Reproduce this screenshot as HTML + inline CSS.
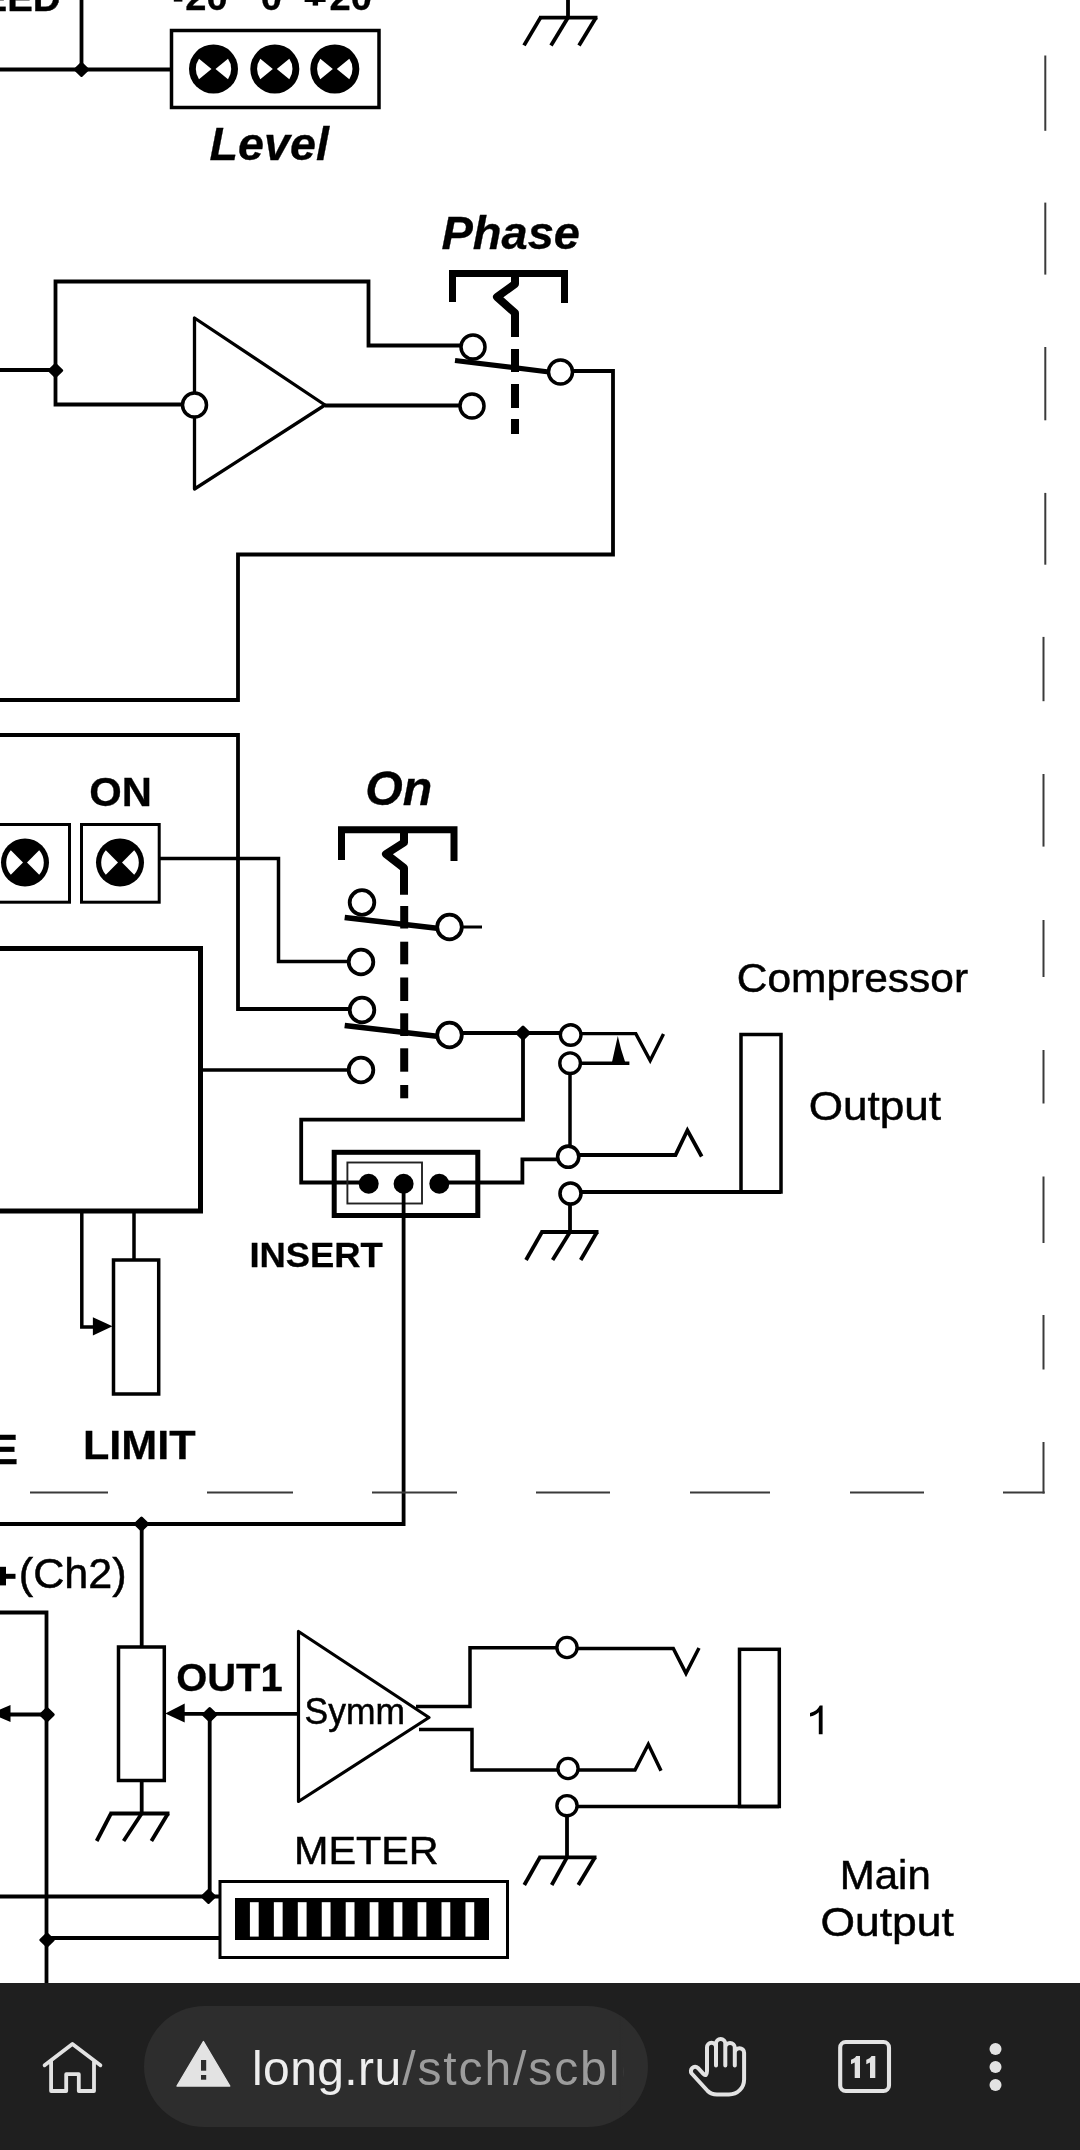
<!DOCTYPE html>
<html><head><meta charset="utf-8"><title>long.ru</title>
<style>
html,body{margin:0;padding:0;background:#fff;}
body{width:1080px;height:2150px;overflow:hidden;position:relative;font-family:"Liberation Sans",sans-serif;}
#dia{position:absolute;left:0;top:0;width:1080px;height:1984px;overflow:hidden;background:#fff;}
#dia svg{display:block;font-family:"Liberation Sans",sans-serif;filter:blur(0.5px);}
#bar{position:absolute;left:0;top:1983px;width:1080px;height:167px;background:#1f1f1f;}
#pill{position:absolute;left:144px;top:23px;width:504px;height:121px;border-radius:61px;background:#2d2d2d;overflow:hidden;}
#url{position:absolute;left:107.5px;top:1.5px;height:121px;line-height:121px;font-size:48px;color:#eeeeee;white-space:nowrap;width:372.5px;overflow:hidden;letter-spacing:0.4px;will-change:transform;}
#url span{color:#9c9c9c;letter-spacing:1.9px;margin-left:0.6px;}
#fade{position:absolute;left:475px;top:0;width:6px;height:121px;background:linear-gradient(to right,rgba(45,45,45,0),rgba(45,45,45,1) 85%);}
.ic{position:absolute;}
</style></head><body>
<div id="dia"><svg width="1080" height="1984" viewBox="0 0 1080 1984">
<text stroke="#000" stroke-width="0.3" transform="translate(60.6,11.3) scale(1.04,1)" font-size="37" font-weight="bold" font-style="normal" text-anchor="end" fill="#000">EED</text>
<line x1="81.5" y1="0" x2="81.5" y2="69.5" stroke="#000" stroke-width="3.8" stroke-linecap="butt"/>
<line x1="0" y1="69.5" x2="171" y2="69.5" stroke="#000" stroke-width="3.8" stroke-linecap="butt"/>
<polygon points="75.3,69.5 81.5,63.5 87.7,69.5 81.5,75.5" fill="#000" stroke="#000" stroke-width="3" stroke-linejoin="round"/>
<rect x="171.5" y="30.5" width="207.5" height="77.0" fill="none" stroke="#000" stroke-width="3.5"/>
<circle cx="213.5" cy="69" r="24.5" fill="#000"/>
<path d="M211.5,69 L199.00100881608483,58.847697076586485 A17.7,17.7 0 0 0 199.00100881608483,79.15230292341352 Z" fill="#fff"/>
<path d="M215.5,69 L227.99899118391517,58.847697076586485 A17.7,17.7 0 0 1 227.99899118391517,79.15230292341352 Z" fill="#fff"/>
<circle cx="274.8" cy="69" r="24.5" fill="#000"/>
<path d="M272.8,69 L260.30100881608485,58.847697076586485 A17.7,17.7 0 0 0 260.30100881608485,79.15230292341352 Z" fill="#fff"/>
<path d="M276.8,69 L289.2989911839152,58.847697076586485 A17.7,17.7 0 0 1 289.2989911839152,79.15230292341352 Z" fill="#fff"/>
<circle cx="334.8" cy="69" r="24.5" fill="#000"/>
<path d="M332.8,69 L320.30100881608485,58.847697076586485 A17.7,17.7 0 0 0 320.30100881608485,79.15230292341352 Z" fill="#fff"/>
<path d="M336.8,69 L349.2989911839152,58.847697076586485 A17.7,17.7 0 0 1 349.2989911839152,79.15230292341352 Z" fill="#fff"/>
<text stroke="#000" stroke-width="0.3" transform="translate(185.3,9.7) scale(1.03,1)" font-size="37" font-weight="bold" font-style="normal" text-anchor="start" fill="#000">20</text>
<text stroke="#000" stroke-width="0.3" transform="translate(260.8,9.7) scale(1.03,1)" font-size="37" font-weight="bold" font-style="normal" text-anchor="start" fill="#000">0</text>
<text stroke="#000" stroke-width="0.3" transform="translate(329.6,9.7) scale(1.03,1)" font-size="37" font-weight="bold" font-style="normal" text-anchor="start" fill="#000">20</text>
<rect x="173.8" y="-3" width="8.6" height="4.6" fill="#000"/>
<rect x="304.6" y="-3" width="21" height="5" fill="#000"/><rect x="312.7" y="-3" width="5.4" height="8.6" fill="#000"/>
<text stroke="#000" stroke-width="0.3" transform="translate(209.5,159.5) scale(1.005,1)" font-size="46.5" font-weight="bold" font-style="italic" text-anchor="start" fill="#000">Level</text>
<line x1="568" y1="0" x2="568" y2="17.6" stroke="#000" stroke-width="3.8" stroke-linecap="butt"/>
<line x1="539.0" y1="17.6" x2="597.5" y2="17.6" stroke="#000" stroke-width="3.8" stroke-linecap="butt"/>
<line x1="540.5" y1="17.6" x2="524" y2="45.4" stroke="#000" stroke-width="3.8" stroke-linecap="butt"/>
<line x1="568" y1="17.6" x2="551" y2="45.4" stroke="#000" stroke-width="3.8" stroke-linecap="butt"/>
<line x1="596" y1="17.6" x2="579" y2="45.4" stroke="#000" stroke-width="3.8" stroke-linecap="butt"/>
<text stroke="#000" stroke-width="0.3" transform="translate(441.4,249) scale(1.012,1)" font-size="46.5" font-weight="bold" font-style="italic" text-anchor="start" fill="#000">Phase</text>
<polyline points="452.5,302 452.5,273.5 564.5,273.5 564.5,303" fill="none" stroke="#000" stroke-width="7" stroke-linejoin="miter" stroke-linecap="butt" />
<polyline points="515,273.5 515,284 497,297 515,313 515,337" fill="none" stroke="#000" stroke-width="8" stroke-linejoin="round" stroke-linecap="butt" />
<line x1="515" y1="349" x2="515" y2="372" stroke="#000" stroke-width="8" stroke-linecap="butt"/>
<line x1="515" y1="384" x2="515" y2="408" stroke="#000" stroke-width="8" stroke-linecap="butt"/>
<line x1="515" y1="419" x2="515" y2="434" stroke="#000" stroke-width="8" stroke-linecap="butt"/>
<polyline points="183,404.5 55.5,404.5 55.5,281.5 368.5,281.5 368.5,345.5 461,345.5" fill="none" stroke="#000" stroke-width="3.8" stroke-linejoin="miter" stroke-linecap="butt" />
<line x1="0" y1="370" x2="55.5" y2="370" stroke="#000" stroke-width="3.8" stroke-linecap="butt"/>
<polygon points="49.3,370.5 55.5,364.5 61.7,370.5 55.5,376.5" fill="#000" stroke="#000" stroke-width="3" stroke-linejoin="round"/>
<polygon points="194.5,318 194.5,489 325,405" fill="#fff" stroke="#000" stroke-width="3.3" stroke-linejoin="round"/>
<circle cx="194.5" cy="405" r="12" fill="#fff" stroke="#000" stroke-width="3.5"/>
<line x1="325" y1="405.5" x2="460" y2="405.5" stroke="#000" stroke-width="3.8" stroke-linecap="butt"/>
<polyline points="572,371 613,371 613,554.5 238,554.5 238,700 0,700" fill="none" stroke="#000" stroke-width="3.8" stroke-linejoin="miter" stroke-linecap="butt" />
<line x1="455" y1="360.5" x2="549" y2="372" stroke="#000" stroke-width="5.2" stroke-linecap="butt"/>
<circle cx="473" cy="347" r="12" fill="#fff" stroke="#000" stroke-width="3.5"/>
<circle cx="560.5" cy="372" r="12" fill="#fff" stroke="#000" stroke-width="3.5"/>
<circle cx="472" cy="406" r="12" fill="#fff" stroke="#000" stroke-width="3.5"/>
<polyline points="0,735 238,735 238,1009 350,1009" fill="none" stroke="#000" stroke-width="3.8" stroke-linejoin="miter" stroke-linecap="butt" />
<text stroke="#000" stroke-width="0.3" transform="translate(89.3,806) scale(1.045,1)" font-size="40" font-weight="bold" font-style="normal" text-anchor="start" fill="#000">ON</text>
<rect x="81.5" y="824.5" width="77.69999999999999" height="77.70000000000005" fill="none" stroke="#000" stroke-width="3"/>
<rect x="-8" y="824.5" width="77.5" height="77.70000000000005" fill="none" stroke="#000" stroke-width="3"/>
<circle cx="120" cy="862.5" r="24" fill="#000"/>
<path d="M118.0,862.5 L105.8114598918119,850.1660902549785 A18.8,18.8 0 0 0 105.8114598918119,874.8339097450215 Z" fill="#fff"/>
<path d="M122.0,862.5 L134.1885401081881,850.1660902549785 A18.8,18.8 0 0 1 134.1885401081881,874.8339097450215 Z" fill="#fff"/>
<circle cx="25" cy="862.5" r="24" fill="#000"/>
<path d="M23.0,862.5 L10.811459891811886,850.1660902549785 A18.8,18.8 0 0 0 10.811459891811886,874.8339097450215 Z" fill="#fff"/>
<path d="M27.0,862.5 L39.188540108188114,850.1660902549785 A18.8,18.8 0 0 1 39.188540108188114,874.8339097450215 Z" fill="#fff"/>
<polyline points="160,858.5 278.5,858.5 278.5,961.5 349,961.5" fill="none" stroke="#000" stroke-width="3.5" stroke-linejoin="miter" stroke-linecap="butt" />
<rect x="-8" y="948.5" width="208.5" height="262.5" fill="none" stroke="#000" stroke-width="5"/>
<line x1="201" y1="1070" x2="349" y2="1070" stroke="#000" stroke-width="3.5" stroke-linecap="butt"/>
<text stroke="#000" stroke-width="0.3" transform="translate(365.3,805) scale(1.015,1)" font-size="47.5" font-weight="bold" font-style="italic" text-anchor="start" fill="#000">On</text>
<polyline points="341.5,860 341.5,829.8 454,829.8 454,861" fill="none" stroke="#000" stroke-width="7" stroke-linejoin="miter" stroke-linecap="butt" />
<polyline points="404,829.8 404,842.5 386,854 404,868 404,894.7" fill="none" stroke="#000" stroke-width="8" stroke-linejoin="round" stroke-linecap="butt" />
<line x1="404.2" y1="906" x2="404.2" y2="928.5" stroke="#000" stroke-width="8" stroke-linecap="butt"/>
<line x1="404.2" y1="941.7" x2="404.2" y2="964.3" stroke="#000" stroke-width="8" stroke-linecap="butt"/>
<line x1="404.2" y1="977.5" x2="404.2" y2="1001" stroke="#000" stroke-width="8" stroke-linecap="butt"/>
<line x1="404.2" y1="1013.3" x2="404.2" y2="1036" stroke="#000" stroke-width="8" stroke-linecap="butt"/>
<line x1="404.2" y1="1048.3" x2="404.2" y2="1071.7" stroke="#000" stroke-width="8" stroke-linecap="butt"/>
<line x1="404.2" y1="1085" x2="404.2" y2="1098.3" stroke="#000" stroke-width="8" stroke-linecap="butt"/>
<line x1="344.7" y1="917.5" x2="437" y2="928.3" stroke="#000" stroke-width="5.4" stroke-linecap="butt"/>
<line x1="344.7" y1="1025.5" x2="437" y2="1036.3" stroke="#000" stroke-width="5.4" stroke-linecap="butt"/>
<line x1="461" y1="927" x2="482" y2="927" stroke="#000" stroke-width="3" stroke-linecap="butt"/>
<line x1="461" y1="1033" x2="560" y2="1033" stroke="#000" stroke-width="3.8" stroke-linecap="butt"/>
<polyline points="523,1033 523,1119.7 301.2,1119.7 301.2,1182.5 368,1182.5" fill="none" stroke="#000" stroke-width="3.8" stroke-linejoin="miter" stroke-linecap="butt" />
<polygon points="516.8,1033 523,1027.0 529.2,1033 523,1039.0" fill="#000" stroke="#000" stroke-width="3" stroke-linejoin="round"/>
<circle cx="362" cy="902.5" r="12.3" fill="#fff" stroke="#000" stroke-width="3.8"/>
<circle cx="449.5" cy="927" r="12.3" fill="#fff" stroke="#000" stroke-width="3.8"/>
<circle cx="361" cy="962" r="12.3" fill="#fff" stroke="#000" stroke-width="3.8"/>
<circle cx="362" cy="1010" r="12.3" fill="#fff" stroke="#000" stroke-width="3.8"/>
<circle cx="449.5" cy="1035" r="12.3" fill="#fff" stroke="#000" stroke-width="3.8"/>
<circle cx="361" cy="1070" r="12.3" fill="#fff" stroke="#000" stroke-width="3.8"/>
<rect x="334.2" y="1152.3" width="143.60000000000002" height="63.200000000000045" fill="none" stroke="#000" stroke-width="5"/>
<rect x="347.4" y="1162.5" width="74.60000000000002" height="41.0" fill="none" stroke="#222" stroke-width="1.9"/>
<polyline points="439,1182.5 522.4,1182.5 522.4,1159.3 558,1159.3" fill="none" stroke="#000" stroke-width="3.8" stroke-linejoin="miter" stroke-linecap="butt" />
<polyline points="403.6,1184 403.6,1524 0,1524" fill="none" stroke="#000" stroke-width="3.8" stroke-linejoin="miter" stroke-linecap="butt" />
<circle cx="368.7" cy="1183.8" r="10" fill="#000"/>
<circle cx="403.6" cy="1183.8" r="10" fill="#000"/>
<circle cx="439.3" cy="1183.8" r="10" fill="#000"/>
<polygon points="135.3,1524 141.5,1518.0 147.7,1524 141.5,1530.0" fill="#000" stroke="#000" stroke-width="3" stroke-linejoin="round"/>
<polyline points="581,1033.6 635.8,1033.6 650.2,1060.5 663.5,1034" fill="none" stroke="#000" stroke-width="3.4" stroke-linejoin="miter" stroke-linecap="butt" />
<line x1="580" y1="1063.2" x2="629.4" y2="1063.2" stroke="#000" stroke-width="3.4" stroke-linecap="butt"/>
<polygon points="617.8,1036 614.9,1049 611.4,1064.7 626,1064.7 621,1049" fill="#000" stroke="none" stroke-width="0" stroke-linejoin="round"/>
<line x1="570" y1="1074" x2="570" y2="1146" stroke="#000" stroke-width="3.5" stroke-linecap="butt"/>
<polyline points="579,1155 675.5,1155 687.4,1130.3 701.7,1156.5" fill="none" stroke="#000" stroke-width="3.8" stroke-linejoin="miter" stroke-linecap="butt" />
<line x1="581" y1="1192" x2="781" y2="1192" stroke="#000" stroke-width="3.8" stroke-linecap="butt"/>
<rect x="741" y="1034.5" width="40" height="157.5" fill="none" stroke="#000" stroke-width="3.5"/>
<line x1="570" y1="1205" x2="570" y2="1232" stroke="#000" stroke-width="3.8" stroke-linecap="butt"/>
<line x1="540.5" y1="1232" x2="598.5" y2="1232" stroke="#000" stroke-width="3.8" stroke-linecap="butt"/>
<line x1="542" y1="1232" x2="526" y2="1260" stroke="#000" stroke-width="3.8" stroke-linecap="butt"/>
<line x1="570" y1="1232" x2="552.6" y2="1260" stroke="#000" stroke-width="3.8" stroke-linecap="butt"/>
<line x1="597" y1="1232" x2="580.7" y2="1260" stroke="#000" stroke-width="3.8" stroke-linecap="butt"/>
<circle cx="570.7" cy="1035" r="10.3" fill="#fff" stroke="#000" stroke-width="3.4"/>
<circle cx="570.1" cy="1063.2" r="10.3" fill="#fff" stroke="#000" stroke-width="3.4"/>
<circle cx="568.2" cy="1156.7" r="10.6" fill="#fff" stroke="#000" stroke-width="3.6"/>
<circle cx="570.5" cy="1193.5" r="10.5" fill="#fff" stroke="#000" stroke-width="3.6"/>
<text stroke="#000" stroke-width="0.5" transform="translate(736.8,992) scale(1.036,1)" font-size="41" font-weight="normal" font-style="normal" text-anchor="start" fill="#000">Compressor</text>
<text stroke="#000" stroke-width="0.5" transform="translate(808.7,1120) scale(1.063,1)" font-size="41.5" font-weight="normal" font-style="normal" text-anchor="start" fill="#000">Output</text>
<text stroke="#000" stroke-width="0.3" transform="translate(249.4,1266.5) scale(1.04,1)" font-size="35" font-weight="bold" font-style="normal" text-anchor="start" fill="#000">INSERT</text>
<polyline points="81.8,1212 81.8,1327 94,1327" fill="none" stroke="#000" stroke-width="3.5" stroke-linejoin="miter" stroke-linecap="butt" />
<polygon points="92.9,1317.3 92.9,1335.6 112.5,1326.3" fill="#000" stroke="none" stroke-width="0" stroke-linejoin="round"/>
<line x1="134" y1="1212" x2="134" y2="1260" stroke="#000" stroke-width="3.5" stroke-linecap="butt"/>
<rect x="113.5" y="1260" width="45.19999999999999" height="134" fill="none" stroke="#000" stroke-width="3.5"/>
<text stroke="#000" stroke-width="0.3" transform="translate(83,1459) scale(1.052,1)" font-size="41" font-weight="bold" font-style="normal" text-anchor="start" fill="#000">LIMIT</text>
<text stroke="#000" stroke-width="0.3" transform="translate(18,1464.4) scale(1,1)" font-size="42" font-weight="bold" font-style="normal" text-anchor="end" fill="#000">E</text>
<line x1="1045.3" y1="55.5" x2="1045.3" y2="130.8" stroke="#3a3a3a" stroke-width="2" stroke-linecap="butt"/>
<line x1="1045.3" y1="202.6" x2="1045.3" y2="274.6" stroke="#3a3a3a" stroke-width="2" stroke-linecap="butt"/>
<line x1="1045.3" y1="347" x2="1045.3" y2="420.3" stroke="#3a3a3a" stroke-width="2" stroke-linecap="butt"/>
<line x1="1045.3" y1="492.9" x2="1045.3" y2="564.7" stroke="#3a3a3a" stroke-width="2" stroke-linecap="butt"/>
<line x1="1043.5" y1="636.9" x2="1043.5" y2="701.2" stroke="#3a3a3a" stroke-width="2" stroke-linecap="butt"/>
<line x1="1043.5" y1="774" x2="1043.5" y2="846.6" stroke="#3a3a3a" stroke-width="2" stroke-linecap="butt"/>
<line x1="1043.5" y1="920" x2="1043.5" y2="977" stroke="#3a3a3a" stroke-width="2" stroke-linecap="butt"/>
<line x1="1043.5" y1="1050" x2="1043.5" y2="1103.5" stroke="#3a3a3a" stroke-width="2" stroke-linecap="butt"/>
<line x1="1043.5" y1="1176.5" x2="1043.5" y2="1243" stroke="#3a3a3a" stroke-width="2" stroke-linecap="butt"/>
<line x1="1043.5" y1="1315" x2="1043.5" y2="1369.5" stroke="#3a3a3a" stroke-width="2" stroke-linecap="butt"/>
<line x1="1043.5" y1="1442" x2="1043.5" y2="1493.5" stroke="#3a3a3a" stroke-width="2" stroke-linecap="butt"/>
<line x1="30" y1="1492.5" x2="108" y2="1492.5" stroke="#3a3a3a" stroke-width="2" stroke-linecap="butt"/>
<line x1="207" y1="1492.5" x2="293" y2="1492.5" stroke="#3a3a3a" stroke-width="2" stroke-linecap="butt"/>
<line x1="372" y1="1492.5" x2="457" y2="1492.5" stroke="#3a3a3a" stroke-width="2" stroke-linecap="butt"/>
<line x1="536" y1="1492.5" x2="610" y2="1492.5" stroke="#3a3a3a" stroke-width="2" stroke-linecap="butt"/>
<line x1="690" y1="1492.5" x2="770" y2="1492.5" stroke="#3a3a3a" stroke-width="2" stroke-linecap="butt"/>
<line x1="850" y1="1492.5" x2="924" y2="1492.5" stroke="#3a3a3a" stroke-width="2" stroke-linecap="butt"/>
<line x1="1003" y1="1492.5" x2="1044.7" y2="1492.5" stroke="#3a3a3a" stroke-width="2" stroke-linecap="butt"/>
<text stroke="#000" stroke-width="0.5" transform="translate(18.8,1587.5) scale(1.032,1)" font-size="41.8" font-weight="normal" font-style="normal" text-anchor="start" fill="#000">(Ch2)</text>
<rect x="-9" y="1573.8" width="24.5" height="5" fill="#000"/><rect x="-2" y="1566.8" width="8" height="18.6" fill="#000"/>
<polyline points="0,1612.5 46.5,1612.5 46.5,1990" fill="none" stroke="#000" stroke-width="3.8" stroke-linejoin="miter" stroke-linecap="butt" />
<line x1="8" y1="1714.5" x2="46" y2="1714.5" stroke="#000" stroke-width="3.8" stroke-linecap="butt"/>
<polygon points="-9,1713.5 10.5,1705 10.5,1722" fill="#000" stroke="none" stroke-width="0" stroke-linejoin="round"/>
<polygon points="40.8,1714.7 47,1708.7 53.2,1714.7 47,1720.7" fill="#000" stroke="#000" stroke-width="3" stroke-linejoin="round"/>
<polygon points="40.8,1940 47,1934.0 53.2,1940 47,1946.0" fill="#000" stroke="#000" stroke-width="3" stroke-linejoin="round"/>
<line x1="47" y1="1938" x2="220" y2="1938" stroke="#000" stroke-width="3.8" stroke-linecap="butt"/>
<line x1="0" y1="1896.5" x2="220" y2="1896.5" stroke="#000" stroke-width="3.8" stroke-linecap="butt"/>
<polygon points="202.3,1896.5 208.5,1890.5 214.7,1896.5 208.5,1902.5" fill="#000" stroke="#000" stroke-width="3" stroke-linejoin="round"/>
<line x1="209.7" y1="1715" x2="209.7" y2="1896" stroke="#000" stroke-width="3.8" stroke-linecap="butt"/>
<line x1="141.7" y1="1524" x2="141.7" y2="1646" stroke="#000" stroke-width="3.8" stroke-linecap="butt"/>
<rect x="118.5" y="1647" width="45.80000000000001" height="133.5" fill="none" stroke="#000" stroke-width="3.5"/>
<line x1="141.7" y1="1782" x2="141.7" y2="1813.5" stroke="#000" stroke-width="3.8" stroke-linecap="butt"/>
<line x1="109.5" y1="1813.5" x2="169.5" y2="1813.5" stroke="#000" stroke-width="3.8" stroke-linecap="butt"/>
<line x1="111" y1="1813.5" x2="96.7" y2="1841" stroke="#000" stroke-width="3.8" stroke-linecap="butt"/>
<line x1="141.7" y1="1813.5" x2="123.6" y2="1841" stroke="#000" stroke-width="3.8" stroke-linecap="butt"/>
<line x1="168" y1="1813.5" x2="151.4" y2="1841" stroke="#000" stroke-width="3.8" stroke-linecap="butt"/>
<polygon points="165.3,1713.4 184.7,1703.6 184.7,1722.4" fill="#000" stroke="none" stroke-width="0" stroke-linejoin="round"/>
<line x1="184" y1="1713.8" x2="298" y2="1713.8" stroke="#000" stroke-width="3.8" stroke-linecap="butt"/>
<polygon points="203.5,1714.7 209.7,1708.7 215.89999999999998,1714.7 209.7,1720.7" fill="#000" stroke="#000" stroke-width="3" stroke-linejoin="round"/>
<text stroke="#000" stroke-width="0.3" transform="translate(176.2,1690.5) scale(1.032,1)" font-size="38.7" font-weight="bold" font-style="normal" text-anchor="start" fill="#000">OUT1</text>
<polygon points="298.5,1631.5 298.5,1801.5 429,1717.5" fill="#fff" stroke="#000" stroke-width="3.2" stroke-linejoin="round"/>
<text stroke="#000" stroke-width="0.5" transform="translate(304.6,1723.5) scale(0.945,1)" font-size="37.5" font-weight="normal" font-style="normal" text-anchor="start" fill="#000">Symm</text>
<polyline points="416,1706.5 470,1706.5 470,1647.7 556,1647.7" fill="none" stroke="#000" stroke-width="3.5" stroke-linejoin="miter" stroke-linecap="butt" />
<polyline points="577,1648.5 673.3,1648.5 686,1673.3 699,1648" fill="none" stroke="#000" stroke-width="3.5" stroke-linejoin="miter" stroke-linecap="butt" />
<polyline points="419,1729.5 472,1729.5 472,1770 557,1770" fill="none" stroke="#000" stroke-width="3.5" stroke-linejoin="miter" stroke-linecap="butt" />
<polyline points="578,1770 635,1770 648.3,1744.3 661,1770.7" fill="none" stroke="#000" stroke-width="3.5" stroke-linejoin="miter" stroke-linecap="butt" />
<line x1="577" y1="1806.5" x2="779" y2="1806.5" stroke="#000" stroke-width="3.5" stroke-linecap="butt"/>
<rect x="739.5" y="1649.3" width="39.799999999999955" height="157.20000000000005" fill="none" stroke="#000" stroke-width="3.5"/>
<line x1="567" y1="1816" x2="567" y2="1857.3" stroke="#000" stroke-width="3.8" stroke-linecap="butt"/>
<line x1="538.5" y1="1857.3" x2="596.5" y2="1857.3" stroke="#000" stroke-width="3.8" stroke-linecap="butt"/>
<line x1="540" y1="1857.3" x2="524.3" y2="1885" stroke="#000" stroke-width="3.8" stroke-linecap="butt"/>
<line x1="567" y1="1857.3" x2="551.7" y2="1885" stroke="#000" stroke-width="3.8" stroke-linecap="butt"/>
<line x1="595" y1="1857.3" x2="578.3" y2="1885" stroke="#000" stroke-width="3.8" stroke-linecap="butt"/>
<circle cx="567" cy="1647.5" r="10.1" fill="#fff" stroke="#000" stroke-width="3.4"/>
<circle cx="568" cy="1768.5" r="10.1" fill="#fff" stroke="#000" stroke-width="3.4"/>
<circle cx="567" cy="1805.7" r="10.1" fill="#fff" stroke="#000" stroke-width="3.4"/>
<path d="M822.6,1734.3 V1705.4 H819.8 C818,1709 815,1711.6 810,1713 V1716.6 C813.6,1715.7 816.4,1714.3 818.8,1712.2 V1734.3 Z" fill="#000"/>
<text stroke="#000" stroke-width="0.5" transform="translate(839.8,1889) scale(1.036,1)" font-size="40.5" font-weight="normal" font-style="normal" text-anchor="start" fill="#000">Main</text>
<text stroke="#000" stroke-width="0.5" transform="translate(820.4,1936) scale(1.097,1)" font-size="40.5" font-weight="normal" font-style="normal" text-anchor="start" fill="#000">Output</text>
<text stroke="#000" stroke-width="0.5" transform="translate(294,1864) scale(1.074,1)" font-size="38.5" font-weight="normal" font-style="normal" text-anchor="start" fill="#000">METER</text>
<rect x="220" y="1881.5" width="287.5" height="76.0" fill="none" stroke="#000" stroke-width="3"/>
<rect x="235" y="1898" width="254" height="42" fill="#000"/>
<rect x="249.9" y="1902.2" width="8.8" height="34.4" fill="#fff"/>
<rect x="273.85" y="1902.2" width="8.8" height="34.4" fill="#fff"/>
<rect x="297.8" y="1902.2" width="8.8" height="34.4" fill="#fff"/>
<rect x="321.75" y="1902.2" width="8.8" height="34.4" fill="#fff"/>
<rect x="345.7" y="1902.2" width="8.8" height="34.4" fill="#fff"/>
<rect x="369.65" y="1902.2" width="8.8" height="34.4" fill="#fff"/>
<rect x="393.6" y="1902.2" width="8.8" height="34.4" fill="#fff"/>
<rect x="417.55" y="1902.2" width="8.8" height="34.4" fill="#fff"/>
<rect x="441.5" y="1902.2" width="8.8" height="34.4" fill="#fff"/>
<rect x="465.45" y="1902.2" width="8.8" height="34.4" fill="#fff"/>
</svg></div>
<div id="bar">
<svg class="ic" style="left:0;top:0" width="1080" height="167" viewBox="0 1983 1080 167">
<!-- home -->
<path d="M44.6,2065.3 L72.4,2044 L100.4,2065.3 M51.1,2061 V2091 H66.2 V2074.2 H78.8 V2091 H94 V2061" fill="none" stroke="#e3e3e3" stroke-width="3.8" stroke-linejoin="round" stroke-linecap="round"/>
</svg>
<div id="pill">
<svg class="ic" style="left:0;top:0" width="120" height="121" viewBox="144 2006 120 121">
<path d="M203.4,2041.6 L229.8,2086 H177 Z" fill="#e3e3e3" stroke="#e3e3e3" stroke-width="1.4" stroke-linejoin="round"/>
<rect x="201" y="2060" width="5.2" height="10.7" fill="#2d2d2d"/><rect x="201" y="2075" width="5.2" height="4.7" fill="#2d2d2d"/>
</svg>
<div id="url">long.ru<span>/stch/scblock</span></div>
<div id="fade"></div>
</div>
<svg class="ic" style="left:0;top:0" width="1080" height="167" viewBox="0 1983 1080 167">
<!-- hand -->
<g fill="none" stroke="#e3e3e3" stroke-width="4" stroke-linejoin="round" stroke-linecap="round">
<path d="M707,2071 V2047.3 a4.5,4.5 0 0 1 9,0 V2065.4 M716,2047.3 V2043.6 a4.65,4.65 0 0 1 9.3,0 V2065.4 M725.3,2047.7 a4.75,4.75 0 0 1 9.5,0 V2065.4 M734.8,2052.8 a4.65,4.65 0 0 1 9.3,0 V2079.5 C744.1,2088 737.5,2094.5 729,2094.5 H717 C713.5,2094.5 710.5,2093.8 707.7,2091 L691.7,2073.5 A4.2,4.2 0 0 1 697.9,2067.9 L703.6,2074.1 Q706.8,2077 707,2071"/>
</g>
<!-- tabs -->
<rect x="840.2" y="2042" width="48.800" height="49" rx="5.500" fill="none" stroke="#e3e3e3" stroke-width="4.100"/>
<path d="M860,2056.1 V2078.1 H854.7 V2062.6 L851,2064.2 V2059.8 C853.5,2059 855.3,2057.800 856.2,2056.1 Z M875.3,2056.1 V2078.1 H870 V2062.6 L866.3,2064.2 V2059.8 C868.8,2059 870.6,2057.800 871.5,2056.1 Z" fill="#e3e3e3"/>
<circle cx="995.5" cy="2049" r="6" fill="#e3e3e3"/><circle cx="995.5" cy="2067" r="6" fill="#e3e3e3"/><circle cx="995.5" cy="2085" r="6" fill="#e3e3e3"/>
</svg>
</div>
</body></html>
